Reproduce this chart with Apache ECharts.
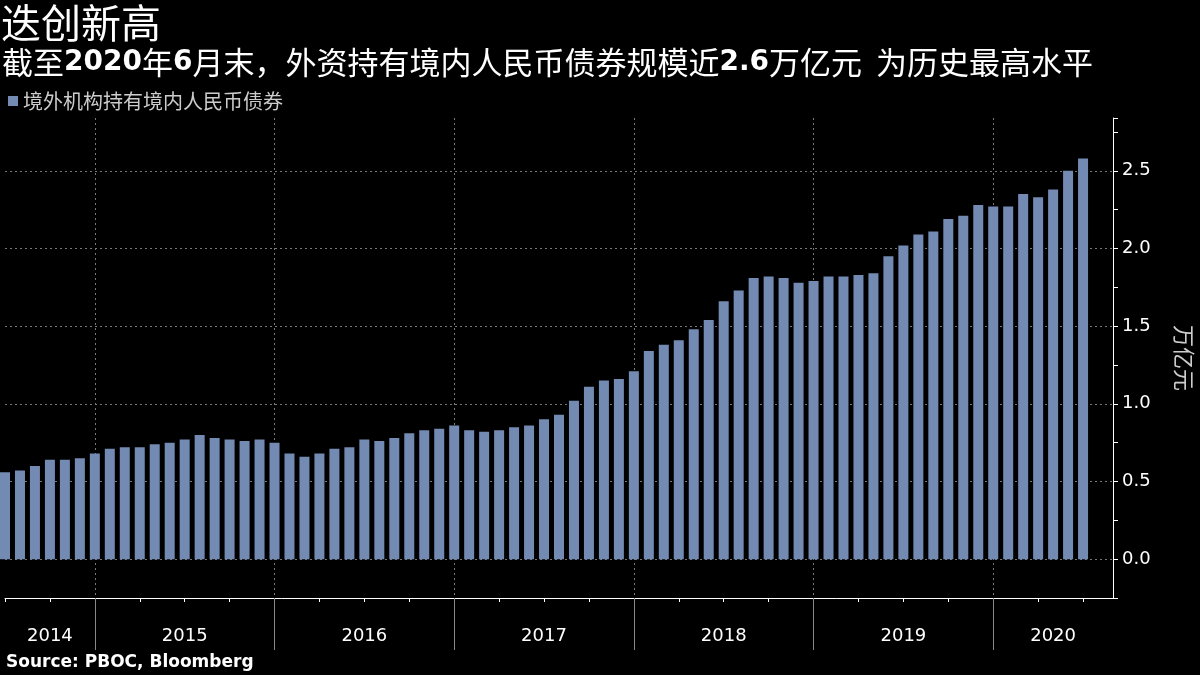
<!DOCTYPE html>
<html>
<head>
<meta charset="utf-8">
<title>迭创新高</title>
<script src="https://cdn.jsdelivr.net/npm/echarts@6/dist/echarts.min.js"></script>
<style>
  html, body { margin: 0; padding: 0; background: #000; }
  #chart { width: 1200px; height: 675px; }
</style>
</head>
<body>
<div id="chart"></div>
<script>
// 境外机构持有境内人民币债券，万亿元，月末值（2014年6月 - 2020年6月）
const startYear = 2014;
const startMonth = 6;
const values2014 = [0.56, 0.57, 0.60, 0.64, 0.64, 0.65, 0.68];
const values2015 = [0.71, 0.72, 0.72, 0.74, 0.75, 0.77, 0.80, 0.78, 0.77, 0.76, 0.77, 0.75];
const values2016 = [0.68, 0.66, 0.68, 0.71, 0.72, 0.77, 0.76, 0.78, 0.81, 0.83, 0.84, 0.86];
const values2017 = [0.83, 0.82, 0.83, 0.85, 0.86, 0.90, 0.93, 1.02, 1.11, 1.15, 1.16, 1.21];
const values2018 = [1.34, 1.38, 1.41, 1.48, 1.54, 1.66, 1.73, 1.81, 1.82, 1.81, 1.78, 1.79];
const values2019 = [1.82, 1.82, 1.83, 1.84, 1.95, 2.02, 2.09, 2.11, 2.19, 2.21, 2.28, 2.27];
const values2020 = [2.27, 2.35, 2.33, 2.38, 2.50, 2.58];
const values = [].concat(values2014, values2015, values2016, values2017, values2018, values2019, values2020);

const years = ['2014', '2015', '2016', '2017', '2018', '2019', '2020'];
const yTickLabels = ['0.0', '0.5', '1.0', '1.5', '2.0', '2.5'];

// month categories, plus two empty slots before the right-hand axis
const months = [];
for (let i = 0; i < values.length + 2; i++) {
  const m = startMonth - 1 + i;
  months.push((startYear + Math.floor(m / 12)) + '-' + String(m % 12 + 1).padStart(2, '0'));
}
const lastReal = values.length - 1;
const monthOf = i => Number(months[i].slice(5));

// year label sits in the middle of the visible part of its year
const yearLabelAt = {};
years.forEach(y => {
  const prevDec = months.indexOf((Number(y) - 1) + '-12');
  const dec = months.indexOf(y + '-12');
  const left = prevDec < 0 ? 0 : prevDec;
  const right = dec < 0 ? months.length - 1 : dec;
  yearLabelAt[Math.round((left + right) / 2)] = y;
});

const isDec = i => i <= lastReal && monthOf(i) === 12;
const isQuarter = i => i <= lastReal && monthOf(i) % 3 === 0;

const chart = echarts.init(document.getElementById('chart'));
const option = {
  backgroundColor: '#000',
  animation: false,
  title: [
    {
      text: '迭创新高',
      left: 1, top: 3, padding: 0,
      textStyle: { color: '#fff', fontSize: 40, fontWeight: 'normal', fontFamily: 'Noto Sans CJK SC' }
    },
    {
      text: '截至{b|2020}年{b|6}月末，外资持有境内人民币债券规模近{b|2.6}万亿元  为历史最高水平',
      left: 2, top: 47, padding: 0,
      textStyle: {
        color: '#fff', fontSize: 31, fontWeight: 'normal', fontFamily: 'Noto Sans CJK SC',
        rich: { b: { color: '#fff', fontSize: 28, fontWeight: 'bold', fontFamily: 'DejaVu Sans' } }
      }
    },
    {
      text: 'Source: PBOC, Bloomberg',
      left: 6, top: 654, padding: 0,
      textStyle: { color: '#fff', fontSize: 17, fontWeight: 'bold', fontFamily: 'DejaVu Sans' }
    }
  ],
  legend: {
    left: 8, top: 91, padding: 0,
    icon: 'rect', itemWidth: 10, itemHeight: 10,
    textStyle: { color: '#ccc', fontSize: 20, fontFamily: 'Noto Sans CJK SC' },
    data: ['境外机构持有境内人民币债券']
  },
  grid: { left: 5, right: 87, top: 118, bottom: 77, containLabel: false, outerBoundsMode: 'none' },
  xAxis: [
    {
      type: 'category', data: months, boundaryGap: false, position: 'bottom',
      axisLine: { show: true, onZero: false, lineStyle: { color: '#fff', width: 1 } },
      axisTick: { show: true, interval: isQuarter, length: 4, lineStyle: { color: '#fff' } },
      axisLabel: { show: false },
      splitLine: { show: true, interval: isDec, lineStyle: { color: '#777', type: [2, 3], width: 1 } }
    },
    {
      type: 'category', data: months, boundaryGap: false, position: 'bottom',
      axisLine: { show: false, onZero: false },
      axisTick: { show: true, interval: isDec, length: 52, lineStyle: { color: '#888' } },
      axisLabel: {
        show: true, interval: i => yearLabelAt[i] !== undefined,
        formatter: (v, i) => yearLabelAt[i] || '',
        color: '#fff', fontSize: 18, fontFamily: 'DejaVu Sans', margin: 29
      },
      splitLine: { show: false }
    }
  ],
  yAxis: {
    type: 'value', position: 'right',
    min: -0.25, max: 2.84, interval: 0.25,
    axisLine: { show: true, lineStyle: { color: '#fff' } },
    axisTick: { show: true, length: 5, lineStyle: { color: '#fff' } },
    axisLabel: {
      color: '#fff', fontSize: 18, fontFamily: 'DejaVu Sans', margin: 9,
      formatter: v => yTickLabels.find(t => Math.abs(Number(t) - v) < 1e-6) || ''
    },
    splitLine: {
      show: true, showMinLine: false, showMaxLine: false,
      lineStyle: { color: ['#777', 'rgba(0,0,0,0)'], type: [2, 3], width: 1 }
    },
    name: '万亿元', nameLocation: 'middle', nameRotate: -90, nameGap: 60,
    nameTextStyle: { color: '#ccc', fontSize: 22, fontFamily: 'Noto Sans CJK SC' }
  },
  series: [
    {
      name: '境外机构持有境内人民币债券',
      type: 'bar',
      xAxisIndex: 0,
      data: values,
      barWidth: 10,
      clip: false,
      itemStyle: { color: '#738ab3' },
      emphasis: { disabled: true }
    }
  ]
};
chart.setOption(option);
window.addEventListener('resize', function () { chart.resize(); });
</script>
</body>
</html>
